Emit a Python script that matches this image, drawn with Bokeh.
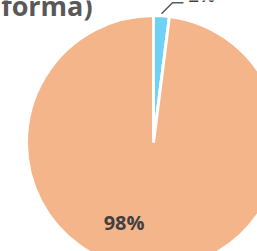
import math
from bokeh.plotting import figure
from bokeh.models import Range1d, ColumnDataSource, CanvasTexture
from bokeh.core.properties import value
from bokeh.embed import file_html
from bokeh.resources import INLINE

# data
categories = ["Otros", "Plataforma"]
values = [2, 98]
labels = ["2%", "98%"]
colors = ["#00B0F0", "#ED7D31"]
title_text = "(Plataforma)"

W, H = 257, 251
R = 127
p = figure(width=W, height=H, output_backend="svg", toolbar_location=None,
           x_range=Range1d(-153, W - 153), y_range=Range1d(142 - H, 142),
           min_border=0, outline_line_color=None,
           styles={"image-rendering": "pixelated"})
p.axis.visible = False
p.grid.visible = False

total = sum(values)
starts, ends, mids = [], [], []
cum = 0.0
for v in values:
    a0 = math.pi / 2 - 2 * math.pi * cum / total
    cum += v
    a1 = math.pi / 2 - 2 * math.pi * cum / total
    starts.append(a0)
    ends.append(a1)
    mids.append((a0 + a1) / 2)

checker = CanvasTexture(code="""
ctx.fillStyle = "#ffffff";
const h = scale / 2;
ctx.fillRect(0, 0, h, h);
ctx.fillRect(h, h, h, h);
""")

src = ColumnDataSource(dict(start=starts, end=ends, color=colors))
p.wedge(x=0, y=0, radius=R, start_angle="start", end_angle="end", direction="clock",
        source=src, fill_color="color", line_color="white", line_width=3,
        hatch_pattern=value("checker"), hatch_extra={"checker": checker},
        hatch_color="white", hatch_scale=4)

# 98% label
m = mids[1]
p.text(x=[0.68 * R * math.cos(m)], y=[0.68 * R * math.sin(m)], text=[labels[1]],
       x_offset=-24, y_offset=-6,
       text_font=value("Open Sans"), text_font_style="bold", text_font_size="20px",
       text_color="#404040", text_align="center", text_baseline="middle")

# 2% label with leader line
m = mids[0]
sx, sy = R * math.cos(m), R * math.sin(m)
p.line(x=[sx, sx + 11, sx + 22], y=[sy + 2, sy + 13, sy + 13], line_color="#595959", line_width=1.5)
p.text(x=[sx + 27], y=[sy + 21], text=[labels[0]],
       text_font=value("Open Sans"), text_font_style="bold", text_font_size="18px",
       text_color="#404040", text_align="left", text_baseline="alphabetic")

# title (cropped at the left edge)
p.text(x=[-231], y=[137], text=[title_text],
       text_font=value("Open Sans"), text_font_style="bold", text_font_size="27px",
       text_color="#595959", text_align="left", text_baseline="alphabetic")

open("out.html", "w").write(file_html(p, INLINE))
